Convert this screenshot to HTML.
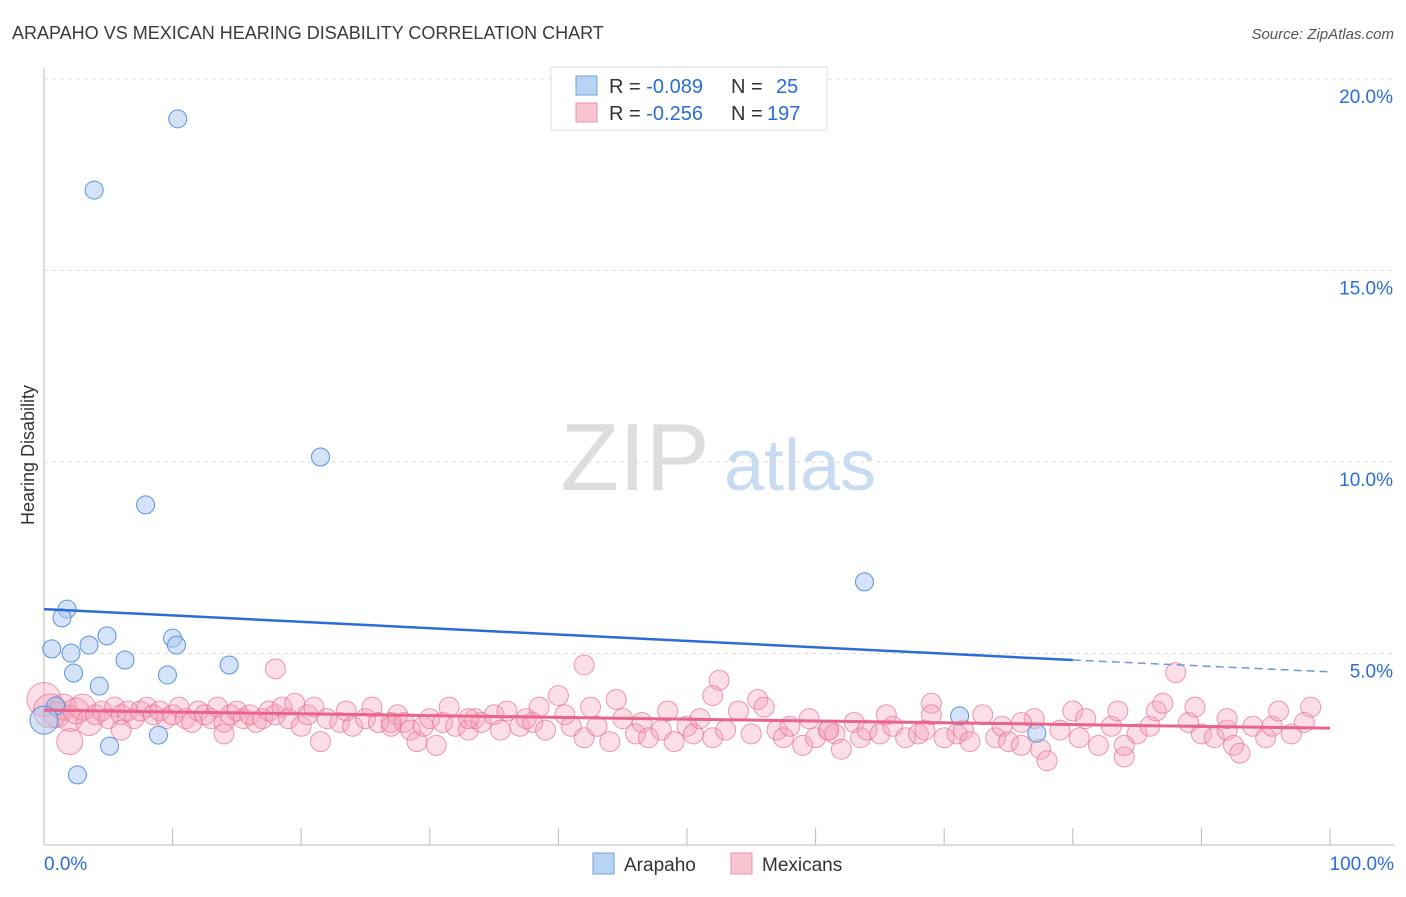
<!DOCTYPE html>
<html><head><meta charset="utf-8"><style>
body{margin:0;background:#fff;font-family:"Liberation Sans",sans-serif}
svg text{font-family:"Liberation Sans",sans-serif}
</style></head><body>
<svg id="c" width="1406" height="892">
<text x="12" y="39" font-size="18" fill="#3a3a3a">ARAPAHO VS MEXICAN HEARING DISABILITY CORRELATION CHART</text>
<text x="1394" y="39" font-size="15" fill="#555" text-anchor="end" font-style="italic">Source: ZipAtlas.com</text>
<text x="34" y="455" font-size="18" fill="#333" text-anchor="middle" transform="rotate(-90 34 455)">Hearing Disability</text>
<g><text x="635" y="490" font-size="96" fill="#ddd" font-family="Liberation Serif" text-anchor="middle">ZIP</text><text x="800" y="490" font-size="72" fill="#c9daf3" text-anchor="middle">atlas</text></g>
<g id="grid"></g><g id="pts"></g><g id="lines"></g>
<g>
<rect x="551" y="67" width="276" height="63" fill="#fff" stroke="#ddd"/>
<rect x="576" y="76" width="21" height="19" fill="#b9d3f5" stroke="#6fa0e0"/>
<rect x="576" y="103" width="21" height="19" fill="#f8c5d2" stroke="#ec8fa8"/>
<text x="609" y="93" font-size="20" fill="#333">R = <tspan fill="#2a6dd8">-0.089</tspan><tspan x="731">N = </tspan><tspan x="776" fill="#2a6dd8">25</tspan></text>
<text x="609" y="120" font-size="20" fill="#333">R = <tspan fill="#2a6dd8">-0.256</tspan><tspan x="731">N = </tspan><tspan x="767" fill="#2a6dd8">197</tspan></text>
</g>
<g>
<rect x="593" y="853" width="21" height="21" fill="#b9d3f5" stroke="#6fa0e0"/>
<text x="624" y="871" font-size="19" fill="#333">Arapaho</text>
<rect x="731" y="853" width="21" height="21" fill="#f8c5d2" stroke="#ec8fa8"/>
<text x="762" y="871" font-size="19" fill="#333">Mexicans</text>
</g>
</svg>
<script>
const yTicks=[5,10,15,20];
const xTickLabels=["0.0%","100.0%"];
const blueX=[10.4,3.9,21.5,7.9,63.8,1.8,1.4,0.6,2.1,3.5,4.9,10.0,10.3,6.3,2.3,14.4,9.6,4.3,0.9,0,71.2,5.1,8.9,2.6,77.2];
const blueY=[18.96,17.1,10.13,8.88,6.87,6.16,5.93,5.12,5.01,5.22,5.46,5.40,5.22,4.83,4.49,4.70,4.44,4.15,3.63,3.26,3.37,2.58,2.87,1.83,2.92];
const pinkX=[0,0.5,1,1.5,2,2.5,3,3.5,4,4.5,5,5.5,6,6.5,7,7.5,8,8.5,9,9.5,10,10.5,11,11.5,12,12.5,13,13.5,14,14.5,15,15.5,16,16.5,17,17.5,18,18.5,19,19.5,20,20.5,21,21.5,22,23,23.5,24,25,25.5,26,27,27.5,28,28.5,29,29.5,30,30.5,31,31.5,32,33,33.5,34,35,35.5,36,37,37.5,38,38.5,39,40,40.5,41,42,42.5,43,44,44.5,45,46,46.5,47,48,48.5,49,50,50.5,51,52,52.5,53,54,55,55.5,56,57,57.5,58,59,59.5,60,61,61.5,62,63,63.5,64,65,65.5,66,67,68,68.5,69,70,71,71.5,72,73,74,74.5,75,76,77,77.5,78,79,80,80.5,81,82,83,83.5,84,85,86,86.5,87,88,89,89.5,90,91,92,92.5,93,94,95,95.5,96,97,98,98.5,2,6,14,33,42,18,27,52,61,69,76,84,92];
const pinkY=[3.8,3.5,3.4,3.6,3.3,3.5,3.6,3.2,3.4,3.5,3.3,3.6,3.4,3.5,3.3,3.5,3.6,3.4,3.5,3.3,3.4,3.6,3.3,3.2,3.5,3.4,3.3,3.6,3.2,3.4,3.5,3.3,3.4,3.2,3.3,3.5,3.4,3.6,3.3,3.7,3.1,3.4,3.6,2.7,3.3,3.2,3.5,3.1,3.3,3.6,3.2,3.1,3.4,3.2,3.0,2.7,3.1,3.3,2.6,3.2,3.6,3.1,3.0,3.3,3.2,3.4,3.0,3.5,3.1,3.3,3.2,3.6,3.0,3.9,3.4,3.1,2.8,3.6,3.1,2.7,3.8,3.3,2.9,3.2,2.8,3.0,3.5,2.7,3.1,2.9,3.3,2.8,4.3,3.0,3.5,2.9,3.8,3.6,3.0,2.8,3.1,2.6,3.3,2.8,3.0,2.9,2.5,3.2,2.8,3.0,2.9,3.4,3.1,2.8,2.9,3.0,3.7,2.8,2.9,3.0,2.7,3.4,2.8,3.1,2.7,2.6,3.3,2.5,2.2,3.0,3.5,2.8,3.3,2.6,3.1,3.5,2.3,2.9,3.1,3.5,3.7,4.5,3.2,3.6,2.9,2.8,3.0,2.6,2.4,3.1,2.8,3.1,3.5,2.9,3.2,3.6,2.7,3.0,2.9,3.3,4.7,4.6,3.2,3.9,3.0,3.4,3.2,2.6,3.3,2.6,3.7,3.1,2.9,3.8,2.3,2.7,3.3,2.9,2.6,2.5];
const X=v=>44+v*12.86, Y=v=>845-v*38.3;
const NS="http://www.w3.org/2000/svg";
function mk(t,a,p){const e=document.createElementNS(NS,t);for(const k in a)e.setAttribute(k,a[k]);p.appendChild(e);return e;}
const grid=document.getElementById('grid');
mk('line',{x1:44,y1:68,x2:44,y2:845,stroke:'#bbb'},grid);
mk('line',{x1:44,y1:845,x2:1394,y2:845,stroke:'#bbb'},grid);
for(const t of yTicks){
 const gl=mk('line',{x1:44,x2:1394,y1:Y(t),y2:Y(t),stroke:'#ddd','stroke-dasharray':'4,4'},grid);
 
 
 const tx=mk('text',{x:1393,y:Y(t)+24,'font-size':19,fill:'#2a6dd8','text-anchor':'end'},grid);tx.textContent=t.toFixed(1)+'%';
 
 
}
for(let i=0;i<=10;i++){mk('line',{x1:X(i*10),x2:X(i*10),y1:828,y2:845,stroke:'#bbb'},grid);}
const l0=mk('text',{x:44,y:870,'font-size':19,fill:'#2a6dd8'},grid);l0.textContent=xTickLabels[0];


const l1=mk('text',{x:1394,y:870,'font-size':19,fill:'#2a6dd8','text-anchor':'end'},grid);l1.textContent=xTickLabels[1];


const pts=document.getElementById('pts');
pinkX.forEach((x,i)=>{const r=x<1?17:(x<4?13:10);
 const c=mk('circle',{cx:X(x),cy:Y(pinkY[i]),r:r,fill:'rgba(244,160,184,0.35)',stroke:'rgba(232,110,145,0.7)'},pts);
 
 });
blueX.forEach((x,i)=>{
 const c=mk('circle',{cx:X(x),cy:Y(blueY[i]),r:x<0.5?14:9,fill:'rgba(170,200,240,0.5)',stroke:'#5b93dd'},pts);
 
 });
const lines=document.getElementById('lines');
const b=mk('line',{x1:X(0),y1:Y(6.16),x2:X(80),y2:Y(4.83),stroke:'#2a6dd8','stroke-width':2.5},lines);


mk('line',{x1:X(80),y1:Y(4.83),x2:X(100),y2:Y(4.52),stroke:'#6a98dd','stroke-width':1.5,'stroke-dasharray':'8,5'},lines);
const p=mk('line',{x1:X(0),y1:Y(3.52),x2:X(100),y2:Y(3.05),stroke:'#e8648c','stroke-width':3},lines);


</script>
</body></html>
